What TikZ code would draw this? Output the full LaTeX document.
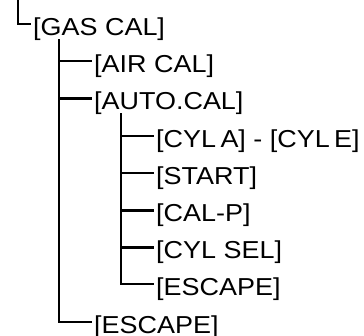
\documentclass[tikz,border=0pt]{standalone}
\usepackage{fontspec}
\setmainfont{Liberation Sans}[FakeStretch=1.1]
\begin{document}
\begin{tikzpicture}[x=1bp,y=-1bp,
  item/.style={anchor=west,inner xsep=2bp,inner ysep=0pt,text height=23bp,text depth=0pt,
    font=\fontsize{24.5bp}{24.5bp}\selectfont},
  thinln/.style={line width=2bp},
  thickln/.style={line width=3bp}]
\useasboundingbox (0,0) rectangle (364,336);
\coordinate (top) at (18,0);
\node[item] (gas) at (31,24) {[GAS CAL]};
\node[item] (air) at (92,61.2) {[AIR CAL]};
\node[item] (auto) at (92,98.4) {[AUTO.CAL]};
\node[item] (cyl) at (154,135.6) {[CYL\hspace{0.18em}A] - [CYL\hspace{0.18em}E]};
\node[item] (start) at (154,172.8) {[START]};
\node[item] (calp) at (154,210) {[CAL-P]};
\node[item] (cylsel) at (154,247.2) {[CYL SEL]};
\node[item] (esc2) at (154,284.4) {[ESCAPE]};
\node[item] (esc1) at (92,321.6) {[ESCAPE]};
\coordinate (m0) at (59,39);
\coordinate (s0) at (121,113);
\draw[thinln] (top) |- (gas.west);
\draw[thinln] (m0) |- (esc1.west);
\draw[thinln] (m0 |- air.west) -- (air.west);
\draw[thickln] (m0 |- auto.west) -- (auto.west);
\draw[thinln] (s0) |- (esc2.west);
\draw[thinln] (s0 |- cyl.west) -- (cyl.west);
\draw[thinln] (s0 |- start.west) -- (start.west);
\draw[thickln] (s0 |- calp.west) -- (calp.west);
\draw[thickln] (s0 |- cylsel.west) -- (cylsel.west);
\end{tikzpicture}
\end{document}
